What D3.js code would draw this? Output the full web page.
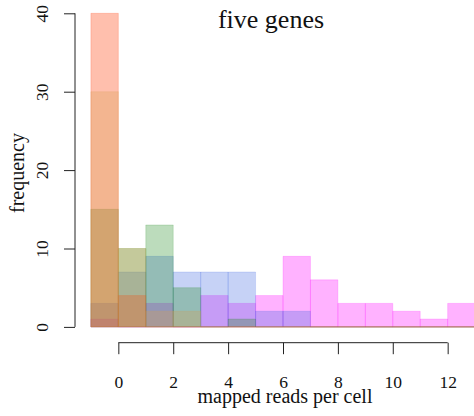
<!DOCTYPE html>
<html>
<head>
<meta charset="utf-8">
<script src="https://cdn.jsdelivr.net/npm/d3@7"></script>
<style>
  html, body { margin: 0; padding: 0; background: #fff; }
  svg { display: block; font-family: "Liberation Serif", "DejaVu Serif", serif; }
</style>
</head>
<body>
<svg id="chart" width="474" height="416"></svg>
<script>
// Histogram bin edges (unit-width bins from -1 to 13)
const binStarts = [-1, 0, 1, 2, 3, 4, 5, 6, 7, 8, 9, 10, 11, 12];

// Counts per bin for each of the five genes
const geneMagenta = [1, 0, 3, 0, 4, 3, 4, 9, 6, 3, 3, 2, 1, 3];
const geneBlue    = [3, 7, 9, 7, 7, 7, 2, 2, 0, 0, 0, 0, 0, 0];
const geneGreen   = [15, 10, 13, 5, 0, 1, 0, 0, 0, 0, 0, 0, 0, 0];
const geneSalmon  = [40, 4, 0, 0, 0, 0, 0, 0, 0, 0, 0, 0, 0, 0];
const geneOchre   = [30, 10, 2, 2, 0, 0, 0, 0, 0, 0, 0, 0, 0, 0];

// Drawing order (later layers sit on top)
const seriesCounts = [geneMagenta, geneBlue, geneGreen, geneSalmon, geneOchre];
const seriesColors = ["rgb(255,0,255)", "rgb(65,105,225)", "rgb(34,139,34)", "rgb(255,55,0)", "rgb(215,160,80)"];
const seriesAlpha  = [0.3, 0.3, 0.3, 0.32, 0.3];

const xTicks = [0, 2, 4, 6, 8, 10, 12];
const yTicks = [0, 10, 20, 30, 40];

const titleText = "five genes";
const xLabel = "mapped reads per cell";
const yLabel = "frequency";

const svg = d3.select("#chart");

const x = d3.scaleLinear().domain([-1, 13]).range([90.9, 475.1]);
const y = d3.scaleLinear().domain([0, 40]).range([326.9, 13.3]);

// Bars: closed paths so empty bins still leave their outline on the baseline
seriesCounts.forEach((counts, i) => {
  svg.append("g")
    .selectAll("path")
    .data(counts.map((c, k) => ({ x0: binStarts[k], x1: binStarts[k] + 1, c })))
    .join("path")
    .attr("d", d => {
      const p = d3.path();
      p.moveTo(x(d.x0), y(0));
      p.lineTo(x(d.x0), y(d.c));
      p.lineTo(x(d.x1), y(d.c));
      p.lineTo(x(d.x1), y(0));
      p.closePath();
      return p.toString();
    })
    .attr("fill", seriesColors[i])
    .attr("fill-opacity", seriesAlpha[i])
    .attr("stroke", seriesColors[i])
    .attr("stroke-opacity", seriesAlpha[i] * 0.6)
    .attr("stroke-width", 1);
});

// X axis
const xAxis = svg.append("g")
  .attr("transform", `translate(0,342.7)`)
  .call(d3.axisBottom(x).tickValues(xTicks).tickSize(11.5).tickPadding(21).tickSizeOuter(0));
xAxis.select(".domain").attr("d", `M${x(0)},0H${x(12)}`).attr("stroke", "#222");
xAxis.selectAll(".tick line").attr("stroke", "#222");
xAxis.selectAll("text").attr("font-size", 17.5).attr("fill", "#111")
  .attr("font-family", "Liberation Serif, serif");

// Y axis with rotated labels
const yAxis = svg.append("g")
  .attr("transform", `translate(75,0)`)
  .call(d3.axisLeft(y).tickValues(yTicks).tickSize(11).tickSizeOuter(0));
yAxis.select(".domain").attr("d", `M0,${y(0)}V${y(40)}`).attr("stroke", "#222");
yAxis.selectAll(".tick line").attr("stroke", "#222");
yAxis.selectAll("text")
  .attr("font-size", 17.5).attr("fill", "#111")
  .attr("font-family", "Liberation Serif, serif")
  .attr("x", null).attr("dy", null)
  .attr("text-anchor", "middle")
  .attr("transform", "translate(-27,0) rotate(-90)");

// Title and axis labels
svg.append("text")
  .attr("x", 271).attr("y", 28)
  .attr("text-anchor", "middle")
  .attr("font-size", 26).attr("fill", "#111")
  .text(titleText);

svg.append("text")
  .attr("x", 285).attr("y", 402.5)
  .attr("text-anchor", "middle")
  .attr("font-size", 20).attr("fill", "#111")
  .text(xLabel);

svg.append("text")
  .attr("transform", `translate(24,173) rotate(-90)`)
  .attr("text-anchor", "middle")
  .attr("font-size", 20).attr("fill", "#111")
  .text(yLabel);
</script>
</body>
</html>
